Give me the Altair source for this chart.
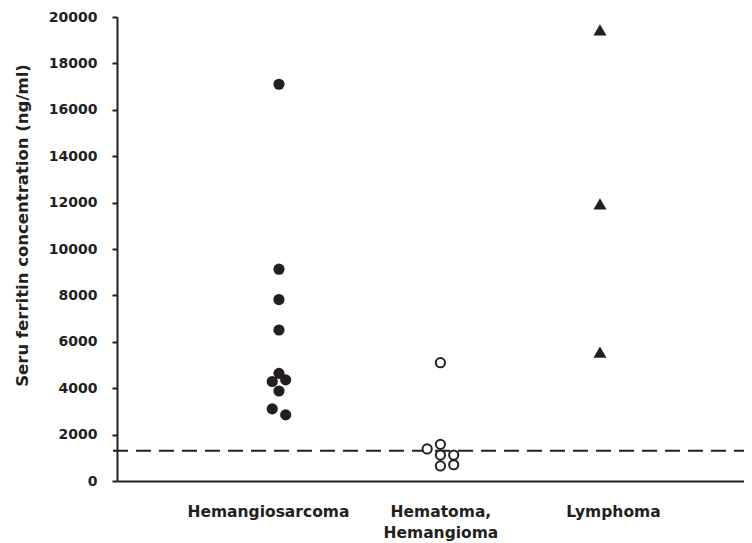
import altair as alt
import pandas as pd

# ---- data ----
categories = ["Hemangiosarcoma", "Hematoma,\nHemangioma", "Lymphoma"]
category_pos = [0, 1, 2]

# Hemangiosarcoma (filled circles): ng/ml and horizontal position (category units)
hsa_values = [17100, 9130, 7820, 6510, 4640, 4290, 4360, 3880, 3110, 2850]
hsa_x = [0.064, 0.064, 0.064, 0.064, 0.064, 0.025, 0.103, 0.064, 0.025, 0.103]

# Hematoma, Hemangioma (open circles)
hem_values = [5100, 1380, 1580, 1120, 1120, 650, 700]
hem_x = [1.0, 0.923, 1.0, 1.0, 1.077, 1.0, 1.077]

# Lymphoma (filled triangles)
lym_values = [19440, 11940, 5560]
lym_x = [1.925, 1.925, 1.925]

cutoff = [1300]

ink = "#231f20"
font = "DejaVu Sans"

hsa = pd.DataFrame({"x": hsa_x, "y": hsa_values})
hem = pd.DataFrame({"x": hem_x, "y": hem_values})
lym = pd.DataFrame({"x": lym_x, "y": lym_values})
cut = pd.DataFrame({"y": cutoff})

label_expr = ("datum.value == 0 ? 'Hemangiosarcoma' : datum.value == 1 ? "
              "['Hematoma,', 'Hemangioma'] : datum.value == 2 ? 'Lymphoma' : ''")

xscale = alt.Scale(domain=[-0.875, 2.760], nice=False, zero=False)
yscale = alt.Scale(domain=[0, 20000], nice=False)

xaxis = alt.Axis(values=category_pos, labelExpr=label_expr, ticks=False, grid=False,
                 title=None, labelFont=font, labelFontWeight="bold", labelFontSize=15.5,
                 labelColor=ink, labelPadding=23, labelLineHeight=21,
                 domainColor=ink, domainWidth=2, labelFlush=False)
yaxis = alt.Axis(values=list(range(0, 20001, 2000)), grid=False, format="d",
                 title="Seru ferritin concentration (ng/ml)",
                 titleFont=font, titleFontWeight="bold", titleFontSize=16.5, titleColor=ink,
                 titleX=-87, titleY=208,
                 labelFont=font, labelFontWeight="bold", labelFontSize=14, labelColor=ink,
                 labelPadding=15, tickSize=5, tickWidth=2, tickColor=ink,
                 domainColor=ink, domainWidth=2)

base_x = alt.X("x:Q", scale=xscale, axis=xaxis)
base_y = alt.Y("y:Q", scale=yscale, axis=yaxis)

rule = alt.Chart(cut).mark_rule(color=ink, strokeWidth=2, strokeDash=[15, 8]).encode(
    y=alt.Y("y:Q", scale=yscale, axis=yaxis), x=alt.value(-4), x2=alt.value(627)
)

p1 = alt.Chart(hsa).mark_point(shape="circle", filled=True, color=ink, size=125, opacity=1).encode(
    x=base_x, y=base_y)
p2 = alt.Chart(hem).mark_point(shape="circle", filled=False, fill="white", stroke=ink,
                               strokeWidth=2, size=85, opacity=1).encode(x=base_x, y=base_y)
p3 = alt.Chart(lym).mark_point(shape="triangle-up", filled=True, color=ink, size=169,
                               opacity=1).encode(x=base_x, y=base_y)

chart = alt.layer(rule, p1, p2, p3).properties(
    width=627, height=464,
    autosize=alt.AutoSizeParams(type="none"),
    padding={"left": 109, "top": 9, "right": 0, "bottom": 60},
    background="white",
).configure_view(stroke=None)

chart.save("out.html", embed_options={"renderer": "svg", "actions": False})
